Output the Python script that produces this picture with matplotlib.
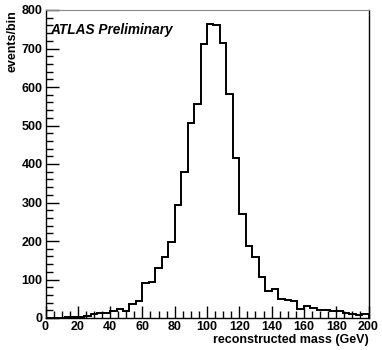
import matplotlib
matplotlib.use("Agg")
import matplotlib.pyplot as plt
import numpy as np
from matplotlib.ticker import MultipleLocator

plt.rcParams['font.family'] = ['Liberation Sans', 'DejaVu Sans']

bin_edges = list(range(0, 204, 4))
counts = [0, 1, 1, 2, 3, 3, 4, 10, 14, 14,
          17, 23, 19, 37, 45, 91, 93, 131, 158, 197,
          293, 379, 507, 555, 712, 763, 762, 713, 581, 415,
          270, 187, 159, 106, 71, 76, 49, 47, 44, 23,
          31, 25, 21, 21, 17, 17, 14, 11, 7, 11]
x_label = "reconstructed mass (GeV)"
y_label = "events/bin"
title_text = "ATLAS Preliminary"

fig = plt.figure(figsize=(3.82, 3.5), dpi=100)
ax = fig.add_axes([45.5/382, 1-318/350, (368.5-45.5)/382, (318-10)/350])

ax.stairs(counts, bin_edges, color='black', linewidth=1.4, baseline=0)

ax.set_xlim(0, 200)
ax.set_ylim(0, 800)
ax.xaxis.set_major_locator(MultipleLocator(20))
ax.xaxis.set_minor_locator(MultipleLocator(5))
ax.yaxis.set_major_locator(MultipleLocator(100))
ax.yaxis.set_minor_locator(MultipleLocator(20))
ax.tick_params(which='both', direction='in', top=False, right=False,
               width=1, color='black')
ax.tick_params(which='major', length=9, labelsize=9, pad=2)
ax.tick_params(which='minor', length=5)
for lab in ax.get_xticklabels() + ax.get_yticklabels():
    lab.set_fontweight('bold')

for s in ['left', 'bottom', 'right']:
    ax.spines[s].set_color('black')
    ax.spines[s].set_linewidth(1.0)
ax.spines['top'].set_color('#888888')
ax.spines['top'].set_linewidth(0.8)

ax.set_xlabel(x_label, fontsize=9, fontweight='bold', loc='right', labelpad=1)
ax.set_ylabel(y_label, fontsize=9, fontweight='bold', loc='top', labelpad=2)

ax.text(0.014, 0.935, title_text, transform=ax.transAxes, fontsize=9.8,
        fontweight='bold', fontstyle='italic', ha='left', va='center')

fig.savefig("out.png", dpi=100)
